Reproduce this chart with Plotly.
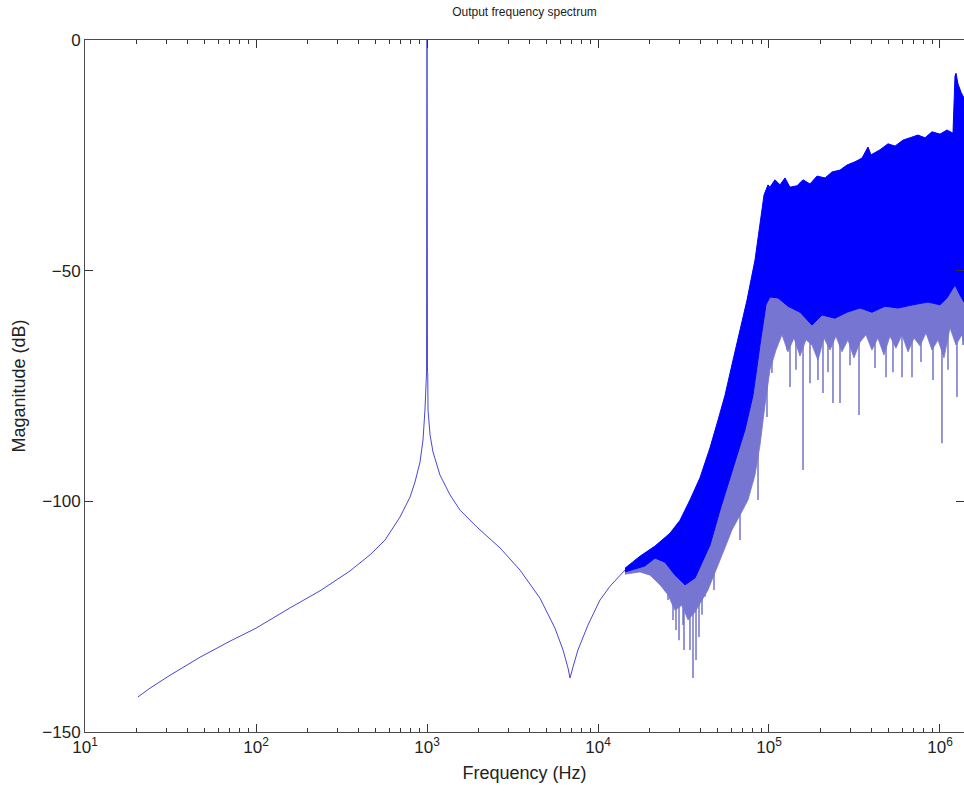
import plotly.graph_objects as go

# ---------------- data ----------------
# smooth part of the spectrum (Hz, dB)
curve_f = [20.4, 24.0, 31.4, 47.0, 70.5, 100, 158, 236.7, 354.5, 464.2, 568, 695.2,
           795.6, 850.8, 910.2, 947.6, 973, 986.7, 990, 994, 996, 1000, 1004, 1006,
           1010, 1014, 1042, 1084, 1191, 1363, 1560, 1961, 2673, 3499, 4580, 5604,
           6242, 6675, 6860, 7142, 7638, 8741, 10270, 11760, 13450, 14380]
curve_db = [-142.4, -140.5, -137.7, -133.8, -130.3, -127.5, -123.1, -119.4, -115.1,
            -111.6, -108.4, -103.4, -99.1, -95.8, -91.5, -86.7, -80.2, -73.7, -72.2,
            -72.0, -34.7, 0.0, -34.7, -72.0, -72.2, -80.2, -85.6, -89.3, -94.3,
            -98.6, -101.9, -105.6, -110.1, -114.9, -121.0, -127.5, -132.2, -136.1,
            -138.3, -135.9, -132.2, -126.8, -121.4, -118.4, -116.0, -114.9]

# dense noisy region: upper edge
upper_f = [14380, 17600, 21540, 26370, 30170, 34510, 39490, 45180, 50330, 55300,
           61590, 67690, 74340, 82810, 88590, 93500, 98680, 101300,
           108400, 116000, 124000, 132700, 145800, 158100, 173700, 190900, 212600,
           233600, 260200, 285800, 318400, 349900, 379300, 395000, 445800, 496600,
           545800, 607600, 667600, 743300, 817200, 898100, 1000000, 1099000,
           1191000, 1224000, 1241000, 1274000, 1327000, 1382000]
upper_db = [-114.5, -111.9, -109.7, -106.9, -104.1, -99.7, -94.9, -88.4, -82.4, -77.0,
            -69.4, -62.9, -56.4, -47.7, -40.1, -33.6, -31.4, -31.9,
            -30.3, -31.4, -29.9, -31.9, -31.6, -30.3, -31.2, -29.5, -29.9,
            -28.6, -28.2, -27.1, -26.4, -25.6, -23.2, -24.9, -23.8, -22.5,
            -23.0, -21.7, -21.2, -20.6, -21.2, -19.9, -20.4, -19.5,
            -20.2, -7.8, -7.2, -9.5, -11.3, -12.6]

# dense noisy region: lower edge of the solid part
lower_f = [14380, 16460, 18830, 21540, 24650, 28200, 32280, 36930, 41120, 45180,
           51690, 59150, 65010, 72370, 80620, 88590, 96040, 101300, 112900,
           129100, 151800, 178400, 204100, 243200, 285800, 340600, 400200, 476900,
           568000, 695200, 850800, 1000000, 1099000, 1224000, 1309000, 1382000]
lower_db = [-115.3, -114.7, -114.0, -112.3, -113.2, -116.0, -118.1, -116.6, -112.7,
            -109.5, -101.9, -94.9, -90.0, -84.5, -77.0, -66.1, -57.4, -55.7,
            -55.9, -57.7, -59.0, -61.8, -59.6, -60.3, -59.0, -58.1, -59.0, -57.7,
            -58.1, -57.4, -56.8, -57.4, -55.9, -53.1, -55.3, -56.8]

# lighter, sparser fringe below the solid part
fringe_f = [14380, 17600, 20150, 23050, 25670, 28200, 30990, 33610, 36930, 40570,
            43990, 47690, 51690, 56050, 60760, 67690, 75390, 82810, 88590, 94760,
            101300, 109900, 119100, 129100, 140000, 151800, 164600, 178400, 193400,
            209600, 227300, 246400, 267100, 289600, 313900, 340300, 368900, 399900,
            433600, 470000, 509600, 552400, 599500, 650100, 704700, 763900, 828200,
            897800, 973400, 1055000, 1144000, 1240000, 1344000, 1382000]
fringe_db = [-115.8, -115.3, -116.0, -118.1, -120.3, -123.6, -122.5, -125.7, -124.0,
             -121.4, -119.2, -116.0, -112.7, -109.5, -106.2, -103.0, -99.7, -94.3,
             -87.8, -79.1, -71.5, -67.2, -63.9, -67.6, -64.6, -68.5, -65.0, -66.1,
             -69.4, -64.6, -67.2, -64.2, -67.6, -65.0, -68.9, -65.5, -63.9, -67.2,
             -64.6, -68.3, -64.2, -66.8, -63.9, -67.6, -64.6, -66.3, -63.5, -67.2,
             -65.0, -68.9, -62.4, -66.1, -63.9, -66.1]

# isolated downward spikes
spike_f = [25670, 27460, 28580, 29770, 31420, 31840, 33160, 34510, 35940, 37430,
           38960, 40570, 42240, 45180, 47690, 50330, 53830, 61590, 67690, 75390,
           86250, 97340, 104100, 127500, 132700, 143800, 158100, 173700, 193400,
           206900, 221300, 236700, 260200, 297700, 336000, 416800, 483400, 531000,
           599600, 686000, 774300, 910000, 1027000, 1113700, 1257000, 1363000]
spike_bottom = [-121.4, -125.7, -127.9, -130.1, -126.8, -132.2, -124.2, -132.2, -138.3,
                -134.4, -129.4, -124.6, -120.7, -115.5, -119.2, -107.7, -103.4, -98.2,
                -108.4, -96.9, -99.7, -81.7, -72.2, -67.2, -75.2, -71.5, -93.2, -74.4,
                -73.7, -76.5, -72.0, -78.7, -78.7, -70.5, -81.3, -71.1, -73.1, -72.0,
                -73.1, -73.1, -69.8, -73.7, -87.4, -71.5, -77.4, -66.1]
spike_top = [-113, -113, -113, -113, -113, -113, -113, -113, -113, -113,
             -112, -112, -110, -106, -108, -97, -95, -88, -88, -76,
             -66, -58, -58, -58, -58, -58, -58, -58, -58,
             -58, -58, -58, -58, -58, -58, -58, -58, -58,
             -58, -58, -58, -58, -58, -58, -58, -58]

x_tick_vals = [10, 100, 1000, 10000, 100000, 1000000]
x_tick_text = ["10<sup>1</sup>", "10<sup>2</sup>", "10<sup>3</sup>",
               "10<sup>4</sup>", "10<sup>5</sup>", "10<sup>6</sup>"]
x_minor_vals = [m * d for d in [10, 100, 1000, 10000, 100000, 1000000]
                for m in range(2, 10)]
y_tick_vals = [-150, -100, -50, 0]

# ---------------- figure ----------------
fig = go.Figure()

sx, sy = [], []
for f, b, t in zip(spike_f, spike_bottom, spike_top):
    sx += [f, f, None]
    sy += [t, b, None]
fig.add_trace(go.Scatter(x=sx, y=sy, mode="lines",
                         line=dict(color="rgb(105,105,200)", width=1.4),
                         hoverinfo="skip", showlegend=False))

fig.add_trace(go.Scatter(x=lower_f + fringe_f[::-1], y=lower_db + fringe_db[::-1],
                         mode="lines", fill="toself",
                         fillcolor="rgb(118,118,210)",
                         line=dict(color="rgb(118,118,210)", width=0.8),
                         hoverinfo="skip", showlegend=False))

fig.add_trace(go.Scatter(x=upper_f + lower_f[::-1], y=upper_db + lower_db[::-1],
                         mode="lines", fill="toself", fillcolor="rgb(0,0,255)",
                         line=dict(color="rgb(0,0,255)", width=1),
                         hoverinfo="skip", showlegend=False))

fig.add_trace(go.Scatter(x=curve_f, y=curve_db, mode="lines",
                         line=dict(color="rgb(70,70,215)", width=1),
                         hoverinfo="skip", showlegend=False))

font_family = "Liberation Sans, Arial, sans-serif"
axis_common = dict(showline=True, linecolor="#4a4a4a", linewidth=1,
                   mirror="allticks", ticks="inside", ticklen=8, tickwidth=1,
                   tickcolor="#333333", showgrid=False, zeroline=False,
                   tickfont=dict(family=font_family, size=17, color="#222222"))

fig.update_layout(
    width=964, height=796,
    margin=dict(l=85, r=0, t=40, b=64),
    paper_bgcolor="white", plot_bgcolor="white",
    title=dict(text="Output frequency spectrum", x=0.5, xref="paper",
               y=1 - 12 / 796, yref="container", yanchor="middle",
               font=dict(family=font_family, size=12, color="#222222")),
    xaxis=dict(type="log", range=[1, 6.1404],
               tickmode="array", tickvals=x_tick_vals, ticktext=x_tick_text,
               minor=dict(tickmode="array", tickvals=x_minor_vals, ticks="inside",
                          ticklen=4, tickcolor="#333333", showgrid=False),
               title=dict(text="Frequency (Hz)", standoff=9,
                          font=dict(family=font_family, size=18, color="#222222")),
               **axis_common),
    yaxis=dict(range=[-150, 0], tickmode="array", tickvals=y_tick_vals,
               title=dict(text="Maganitude (dB)", standoff=12,
                          font=dict(family=font_family, size=18, color="#222222")),
               **axis_common),
)

fig.write_html("out.html")
